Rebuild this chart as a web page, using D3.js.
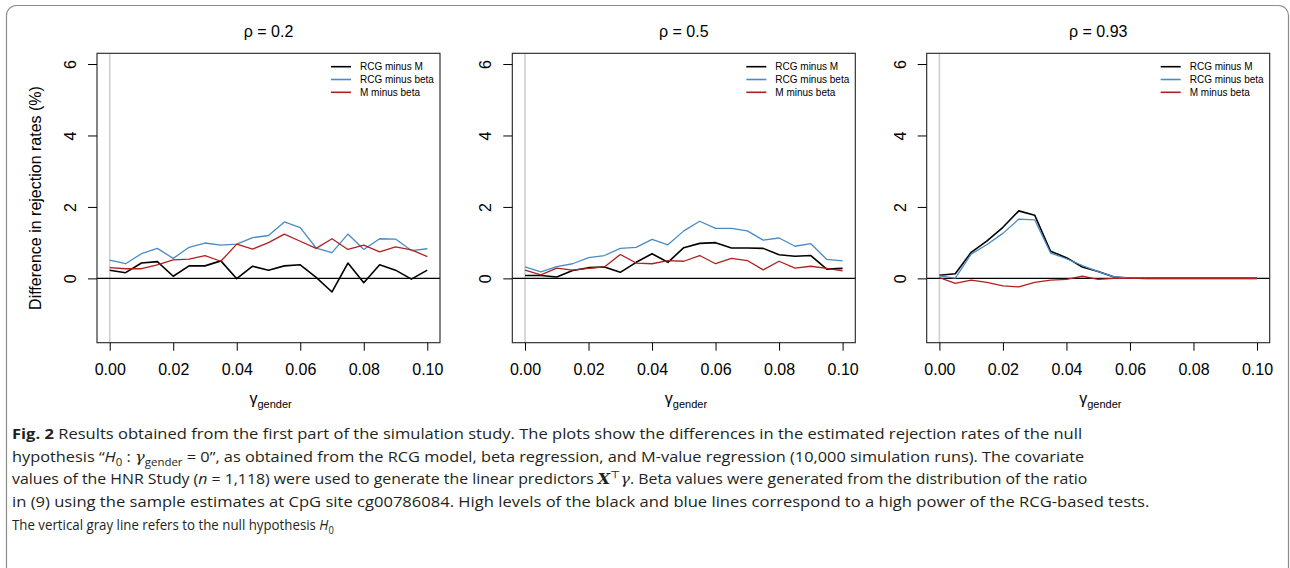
<!DOCTYPE html>
<html>
<head>
<meta charset="utf-8">
<script src="https://cdn.jsdelivr.net/npm/d3@7"></script>
<style>
  html, body { margin: 0; padding: 0; background: #fff; }
  svg { display: block; }
  .axis text { font-family: "Liberation Sans", Arial, sans-serif; font-size: 16px; fill: #000; }
  .axis line { stroke: #000; }
</style>
</head>
<body>
<div id="chart"></div>
<script>
// gamma_gender grid, 21 steps
const gamma = [0, 0.005, 0.01, 0.015, 0.02, 0.025, 0.03, 0.035, 0.04, 0.045, 0.05,
  0.055, 0.06, 0.065, 0.07, 0.075, 0.08, 0.085, 0.09, 0.095, 0.1];

const rhoLabels = ["0.2", "0.5", "0.93"];
const seriesNames = ["RCG minus M", "RCG minus beta", "M minus beta"];
const xTicks = [0, 0.02, 0.04, 0.06, 0.08, 0.1];
const yTicks = [0, 2, 4, 6];

// rho = 0.2
const rcgMinusM_02 = [0.23, 0.16, 0.43, 0.47, 0.06, 0.35, 0.35, 0.49, -0.01, 0.34, 0.23,
  0.35, 0.38, 0.03, -0.38, 0.43, -0.12, 0.38, 0.23, -0.02, 0.23];
const rcgMinusBeta_02 = [0.51, 0.41, 0.69, 0.84, 0.56, 0.87, 0.99, 0.93, 0.96, 1.14, 1.20,
  1.58, 1.42, 0.85, 0.72, 1.24, 0.81, 1.11, 1.10, 0.78, 0.83];
const mMinusBeta_02 = [0.30, 0.27, 0.27, 0.38, 0.52, 0.54, 0.64, 0.48, 0.96, 0.82, 1.00,
  1.24, 1.04, 0.84, 1.11, 0.81, 0.93, 0.74, 0.88, 0.80, 0.61];

// rho = 0.5
const rcgMinusM_05 = [0.08, 0.08, 0.04, 0.22, 0.30, 0.32, 0.17, 0.45, 0.69, 0.45, 0.86,
  0.98, 1.00, 0.85, 0.85, 0.84, 0.66, 0.62, 0.64, 0.26, 0.28];
const rcgMinusBeta_05 = [0.32, 0.18, 0.33, 0.41, 0.58, 0.64, 0.84, 0.87, 1.09, 0.94, 1.33,
  1.60, 1.40, 1.40, 1.33, 1.07, 1.13, 0.90, 0.97, 0.53, 0.49];
const mMinusBeta_05 = [0.23, 0.10, 0.29, 0.23, 0.28, 0.32, 0.67, 0.43, 0.41, 0.50, 0.48,
  0.64, 0.41, 0.56, 0.50, 0.24, 0.48, 0.29, 0.34, 0.28, 0.21];

// rho = 0.93
const rcgMinusM_093 = [0.09, 0.13, 0.73, 1.05, 1.43, 1.89, 1.77, 0.76, 0.58, 0.32, 0.19,
  0.04, 0.01, 0, 0, 0, 0, 0, 0, 0, 0];
const rcgMinusBeta_093 = [0.07, 0.01, 0.68, 0.95, 1.26, 1.66, 1.64, 0.71, 0.55, 0.36, 0.19,
  0.04, 0.01, 0, 0, 0, 0, 0, 0, 0, 0];
const mMinusBeta_093 = [0.02, -0.14, -0.05, -0.11, -0.21, -0.24, -0.11, -0.05, -0.03, 0.06, -0.03,
  0, 0, 0, 0, 0, 0, 0, 0, 0, 0];

const panels = [
  { rho: rhoLabels[0], series: [rcgMinusM_02, rcgMinusBeta_02, mMinusBeta_02] },
  { rho: rhoLabels[1], series: [rcgMinusM_05, rcgMinusBeta_05, mMinusBeta_05] },
  { rho: rhoLabels[2], series: [rcgMinusM_093, rcgMinusBeta_093, mMinusBeta_093] },
];

const colours = ["#000000", "#4a8bc6", "#b0201f"];
const widths = [1.6, 1.3, 1.3];

const W = 1290, H = 568;
const panelLefts = [97, 512.3, 926.7];
const panelW = 343;
const plotTop = 53.3, plotBottom = 342.7;
const sans = '"Liberation Sans", Arial, sans-serif';

const svg = d3.select("#chart").append("svg").attr("width", W).attr("height", H);

// outer frame of the figure (bottom runs off the page)
svg.append("rect")
  .attr("x", 6.5).attr("y", 5.5)
  .attr("width", 1282).attr("height", 620)
  .attr("rx", 10)
  .attr("fill", "none").attr("stroke", "#8c8c8c").attr("stroke-width", 1.2);

const x = d3.scaleLinear().domain([-0.004, 0.104]).range([0, panelW]);
const y = d3.scaleLinear().domain([-1.8, 6.3]).range([plotBottom, plotTop]);

const line = d3.line()
  .x((d, i) => x(gamma[i]))
  .y((d) => y(d));

panels.forEach((p, pi) => {
  const g = svg.append("g").attr("transform", `translate(${panelLefts[pi]},0)`);

  // null hypothesis line
  g.append("line")
    .attr("x1", x(0)).attr("x2", x(0))
    .attr("y1", plotTop).attr("y2", plotBottom)
    .attr("stroke", "#cfcfcf").attr("stroke-width", 1.6);

  // zero line
  g.append("line")
    .attr("x1", 0).attr("x2", panelW)
    .attr("y1", y(0)).attr("y2", y(0))
    .attr("stroke", "#000").attr("stroke-width", 1.2);

  g.selectAll("path.series")
    .data(p.series)
    .join("path")
    .attr("class", "series")
    .attr("d", (d) => line(d))
    .attr("fill", "none")
    .attr("stroke", (d, i) => colours[i])
    .attr("stroke-width", (d, i) => widths[i])
    .attr("stroke-linejoin", "round");

  // plot box
  g.append("rect")
    .attr("x", 0).attr("y", plotTop)
    .attr("width", panelW).attr("height", plotBottom - plotTop)
    .attr("fill", "none").attr("stroke", "#222").attr("stroke-width", 1.1);

  // axes
  const xAxis = d3.axisBottom(x).tickValues(xTicks).tickSize(8).tickPadding(13)
    .tickFormat(d3.format(".2f"));
  g.append("g").attr("class", "axis")
    .attr("transform", `translate(0,${plotBottom})`)
    .call(xAxis)
    .call((a) => a.select(".domain").remove());

  const yAxis = d3.axisLeft(y).tickValues(yTicks).tickSize(9).tickFormat(d3.format("d"));
  g.append("g").attr("class", "axis")
    .call(yAxis)
    .call((a) => a.select(".domain").remove())
    .call((a) => a.selectAll("text")
      .attr("transform", "rotate(-90)")
      .attr("x", 0).attr("y", -21).attr("dy", 0)
      .attr("text-anchor", "middle"));

  // panel title
  g.append("text")
    .attr("x", panelW / 2).attr("y", 37)
    .attr("text-anchor", "middle")
    .attr("font-family", sans).attr("font-size", 16)
    .text(`ρ = ${p.rho}`);

  // x label
  const xl = g.append("text")
    .attr("x", panelW / 2 - 19).attr("y", 404)
    .attr("font-family", sans).attr("font-size", 16);
  xl.append("tspan").text("γ");
  xl.append("tspan").attr("font-size", 11).attr("dy", 4).text("gender");

  // legend
  const lg = g.append("g").attr("transform", `translate(${panelW - 109},0)`);
  seriesNames.forEach((name, i) => {
    const ly = 66.7 + i * 12.8;
    lg.append("line")
      .attr("x1", 0).attr("x2", 20)
      .attr("y1", ly).attr("y2", ly)
      .attr("stroke", colours[i]).attr("stroke-width", 1.6);
    lg.append("text")
      .attr("x", 29).attr("y", ly + 3.6)
      .attr("font-family", sans).attr("font-size", 10)
      .text(name);
  });
});

// shared y label
svg.append("text")
  .attr("transform", "translate(41,198) rotate(-90)")
  .attr("text-anchor", "middle")
  .attr("font-family", sans).attr("font-size", 16)
  .text("Difference in rejection rates (%)");

// caption
const capFont = '"Open Sans", "Noto Sans", sans-serif';
const serif = '"DejaVu Serif", "Liberation Serif", serif';
const capLines = [
  { y: 439, end: 1083, parts: [
    { t: "Fig. 2", w: "bold" },
    { t: " Results obtained from the first part of the simulation study. The plots show the differences in the estimated rejection rates of the null" },
  ] },
  { y: 462, end: 1085, parts: [
    { t: "hypothesis \u201C" },
    { t: "H", i: true },
    { t: "0", sub: true },
    { t: " : " },
    { t: "\u03B3", i: true, f: serif },
    { t: "gender", sub: true },
    { t: " = 0\u201D, as obtained from the RCG model, beta regression, and M-value regression (10,000 simulation runs). The covariate" },
  ] },
  { y: 484, end: 1088, parts: [
    { t: "values of the HNR Study (" },
    { t: "n", i: true },
    { t: " = 1,118) were used to generate the linear predictors " },
    { t: "X", i: true, w: "bold", f: serif },
    { t: "\u22A4", sup: true, f: serif },
    { t: "\u03B3", i: true, f: serif },
    { t: ". Beta values were generated from the distribution of the ratio" },
  ] },
  { y: 507, end: 1150, parts: [
    { t: "in (9) using the sample estimates at CpG site cg00786084. High levels of the black and blue lines correspond to a high power of the RCG-based tests." },
  ] },
  { y: 530, end: 334, parts: [
    { t: "The vertical gray line refers to the null hypothesis " },
    { t: "H", i: true },
    { t: "0", sub: true },
  ] },
];

capLines.forEach((ln) => {
  const g = svg.append("g");
  const txt = g.append("text")
    .attr("x", 0).attr("y", 0)
    .attr("font-family", capFont).attr("font-size", 15)
    .attr("fill", "#231f20");
  let shift = 0;
  ln.parts.forEach((pt) => {
    const ts = txt.append("tspan").text(pt.t);
    if (pt.w) ts.attr("font-weight", pt.w);
    if (pt.i) ts.attr("font-style", "italic");
    if (pt.f) ts.attr("font-family", pt.f);
    let dy = 0;
    if (pt.sub) { ts.attr("font-size", 10.5); dy = 3.5 - shift; shift = 3.5; }
    else if (pt.sup) { ts.attr("font-size", 10.5); dy = -6 - shift; shift = -6; }
    else { dy = -shift; shift = 0; }
    if (dy !== 0) ts.attr("dy", dy);
  });
  const w = txt.node().getBBox().width;
  const sx = (ln.end - 12) / w;
  g.attr("transform", `translate(12,${ln.y}) scale(${sx},1)`);
});
</script>
</body>
</html>
